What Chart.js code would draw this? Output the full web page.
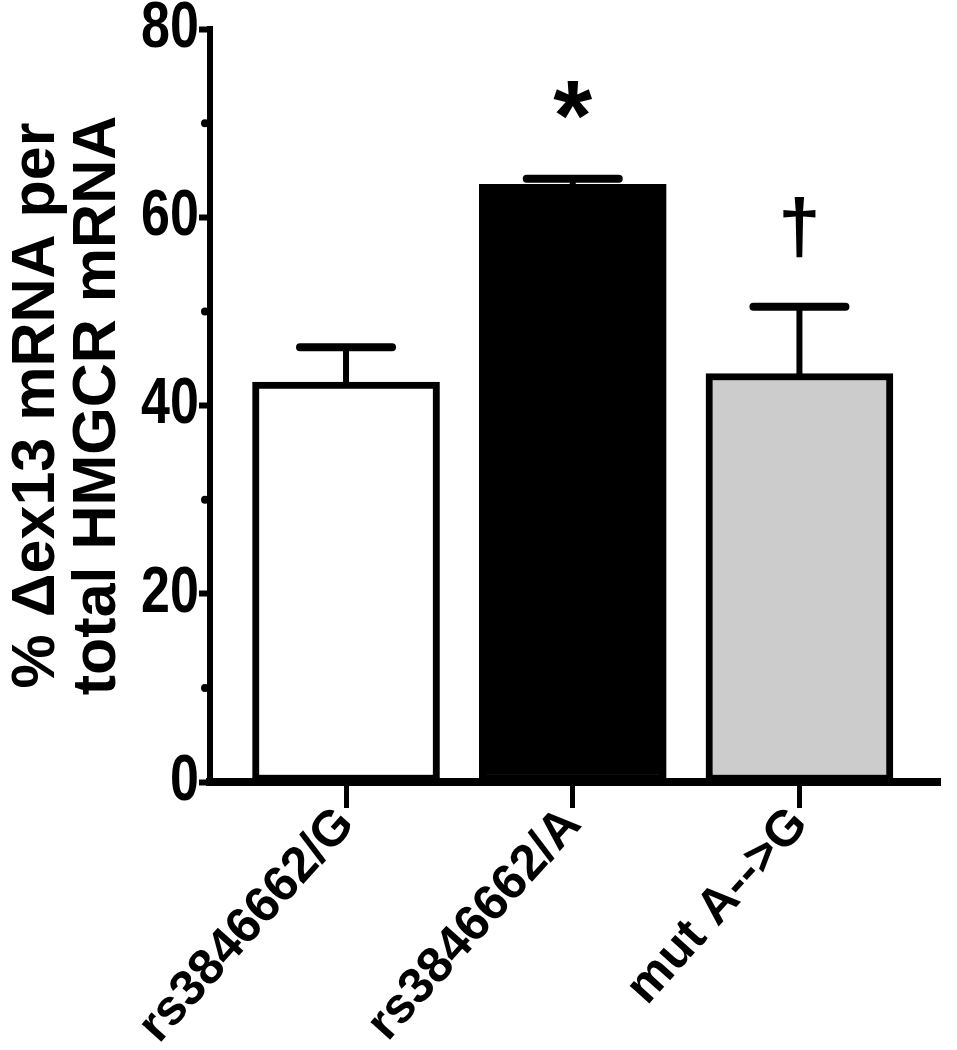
<!DOCTYPE html>
<html>
<head>
<meta charset="utf-8">
<script src="https://cdn.jsdelivr.net/npm/chart.js@4"></script>
<style>
  html, body { margin: 0; padding: 0; background: #fff; }
  #wrap { width: 957px; height: 1050px; }
</style>
</head>
<body>
<div id="wrap"><canvas id="c" width="957" height="1050"></canvas></div>
<script>
const categories = ["rs3846662/G", "rs3846662/A", "mut A-->G"];
const means = [42.5, 63.5, 43.4];
const errorTops = [46.2, 64.1, 50.5];
const barColors = ["#ffffff", "#000000", "#cccccc"];
const marks = ["", "*", "\u2020"];
const yTitle = ["% \u0394ex13 mRNA per", "total HMGCR mRNA"];
const yTicks = [0, 10, 20, 30, 40, 50, 60, 70, 80];

const errorPlugin = {
  id: 'errs',
  afterDatasetsDraw(chart) {
    const ctx = chart.ctx;
    const xs = chart.scales.x, ys = chart.scales.y;
    ctx.save();
    ctx.strokeStyle = '#000';
    ctx.lineCap = 'round';
    means.forEach((m, i) => {
      const x = xs.getPixelForValue(i);
      const yb = ys.getPixelForValue(m);
      const yt = ys.getPixelForValue(errorTops[i]);
      ctx.lineWidth = 6;
      ctx.beginPath(); ctx.moveTo(x, yb); ctx.lineTo(x, yt); ctx.stroke();
      ctx.lineWidth = 8;
      ctx.beginPath(); ctx.moveTo(x - 46, yt); ctx.lineTo(x + 46, yt); ctx.stroke();
      if (marks[i]) {
        const big = marks[i] === '*';
        ctx.font = 'bold ' + (big ? 100 : 76) + 'px "Liberation Sans", Arial, sans-serif';
        ctx.fillStyle = '#000';
        ctx.textAlign = 'center';
        ctx.textBaseline = 'alphabetic';
        const mt = ctx.measureText(marks[i]);
        const h = mt.actualBoundingBoxAscent + mt.actualBoundingBoxDescent;
        const cy = yt - 79;
        ctx.fillText(marks[i], x, cy + mt.actualBoundingBoxAscent - h / 2);
      }
    });
    ctx.fillStyle = '#000';
    yTicks.forEach(v => {
      if (v % 20 !== 0) {
        const y = ys.getPixelForValue(v);
        ctx.beginPath(); ctx.arc(chart.chartArea.left - 5, y, 4, 0, Math.PI * 2); ctx.fill();
      }
    });
    ctx.restore();
  }
};

// horizontally condensed y tick labels (anchored at the axis line)
function condenseYLabels(scale) {
  if (scale._condensed) return;
  scale._condensed = true;
  const orig = scale.drawLabels;
  scale.drawLabels = function (area) {
    const ctx = this.ctx;
    const ax = this.right;
    ctx.save();
    ctx.translate(ax, 0);
    ctx.scale(0.8, 1);
    ctx.translate(-ax, 0);
    orig.call(this, area);
    ctx.restore();
  };
}

new Chart(document.getElementById('c'), {
  type: 'bar',
  data: {
    datasets: [{
      data: means.map((v, i) => ({ x: i, y: v })),
      backgroundColor: barColors,
      borderColor: '#000',
      borderWidth: 7,
      borderSkipped: false,
      barThickness: 187
    }]
  },
  options: {
    responsive: false,
    animation: false,
    layout: { padding: { top: 0, right: 17, left: 0, bottom: 0 } },
    plugins: { legend: { display: false }, tooltip: { enabled: false } },
    scales: {
      x: {
        type: 'linear',
        offset: false,
        min: -0.6,
        max: 2.62,
        afterBuildTicks: s => { s.ticks = categories.map((c, i) => ({ value: i })); },
        afterFit: s => { s.height = 268; },
        grid: { display: true, offset: false, drawOnChartArea: false, drawTicks: true, tickLength: 26, tickWidth: 5, tickColor: '#000', color: '#000' },
        border: { display: true, color: '#000', width: 8 },
        ticks: {
          autoSkip: false,
          minRotation: 48, maxRotation: 48,
          padding: -12,
          color: '#000',
          font: { family: '"Liberation Sans", Arial, sans-serif', weight: 'bold', size: 50 },
          callback: v => categories[v] !== undefined ? categories[v] : ''
        }
      },
      y: {
        min: 0, max: 80,
        afterBuildTicks: s => { s.ticks = yTicks.map(v => ({ value: v })); },
        afterFit: s => { s.width = 210; condenseYLabels(s); },
        grid: {
          display: true, drawOnChartArea: false, drawTicks: true, tickLength: 11, tickWidth: 6,
          tickColor: c => (c.tick && c.tick.value % 20 === 0) ? '#000' : 'rgba(0,0,0,0)'
        },
        border: { display: true, color: '#000', width: 6 },
        ticks: {
          autoSkip: false,
          padding: 3,
          color: '#000',
          font: { family: '"Liberation Sans", Arial, sans-serif', weight: 'bold', size: 65, lineHeight: 0.8 },
          callback: v => v % 20 === 0 ? String(v) : ''
        },
        title: {
          display: true,
          text: yTitle,
          color: '#000',
          padding: { top: 7, bottom: 0 },
          font: { family: '"Liberation Sans", Arial, sans-serif', weight: 'bold', size: 61, lineHeight: 1.0 }
        }
      }
    }
  },
  plugins: [errorPlugin]
});
</script>
</body>
</html>
